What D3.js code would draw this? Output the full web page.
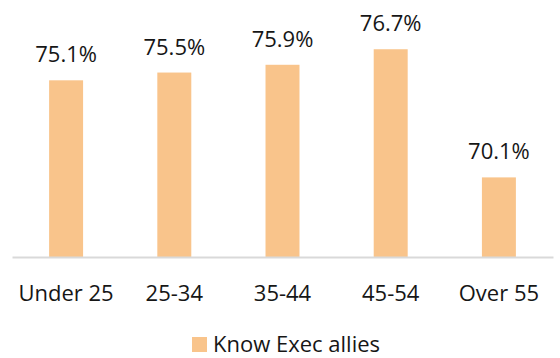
<!DOCTYPE html>
<html>
<head>
<meta charset="utf-8">
<script src="https://cdn.jsdelivr.net/npm/d3@7"></script>
<style>
  body { margin: 0; background: #fff; }
  text { font-family: "Open Sans", "Noto Sans", sans-serif; fill: #161616; }
</style>
</head>
<body>
<div id="chart"></div>
<script>
var svgWidth = 560;
var svgHeight = 358;

// chart data
var ageGroups = ["Under 25", "25-34", "35-44", "45-54", "Over 55"];
var execAllies = [75.1, 75.5, 75.9, 76.7, 70.1];
var seriesName = "Know Exec allies";

var margin = { top: 24, right: 7, bottom: 101, left: 12 };
var width = svgWidth - margin.left - margin.right;
var height = svgHeight - margin.top - margin.bottom;

var svg = d3.select("#chart")
  .append("svg")
  .attr("width", svgWidth)
  .attr("height", svgHeight);

var chartGroup = svg.append("g")
  .attr("transform", `translate(${margin.left}, ${margin.top})`);

var xScale = d3.scaleBand()
  .domain(ageGroups)
  .range([0, width])
  .paddingInner(0.686)
  .paddingOuter(0.343);

var yScale = d3.scaleLinear()
  .domain([66, 78])
  .range([height, 0]);

// bars
chartGroup.selectAll("rect.bar")
  .data(execAllies)
  .enter()
  .append("rect")
  .attr("class", "bar")
  .attr("x", (d, i) => xScale(ageGroups[i]))
  .attr("y", d => yScale(d))
  .attr("width", xScale.bandwidth())
  .attr("height", d => height - yScale(d))
  .attr("fill", "#f9c48b");

// value labels
chartGroup.selectAll("text.value")
  .data(execAllies)
  .enter()
  .append("text")
  .attr("class", "value")
  .attr("x", (d, i) => xScale(ageGroups[i]) + xScale.bandwidth() / 2)
  .attr("y", d => yScale(d) - 18)
  .attr("text-anchor", "middle")
  .style("font-size", "22px")
  .text(d => d.toFixed(1) + "%");

// x axis
var bottomAxis = d3.axisBottom(xScale).tickSize(0).tickPadding(28);
var xAxis = chartGroup.append("g")
  .attr("transform", `translate(0, ${height})`)
  .call(bottomAxis);
xAxis.select(".domain")
  .attr("stroke", "#d9d9d9")
  .attr("stroke-width", 2);
xAxis.selectAll("text")
  .style("font-size", "22px")
  .attr("fill", "#161616");

// legend
var legend = svg.append("g")
  .attr("transform", "translate(192, 337)");
legend.append("rect")
  .attr("width", 15)
  .attr("height", 15)
  .attr("fill", "#f9c48b");
legend.append("text")
  .attr("x", 21)
  .attr("y", 15)
  .style("font-size", "22px")
  .text(seriesName);
</script>
</body>
</html>
